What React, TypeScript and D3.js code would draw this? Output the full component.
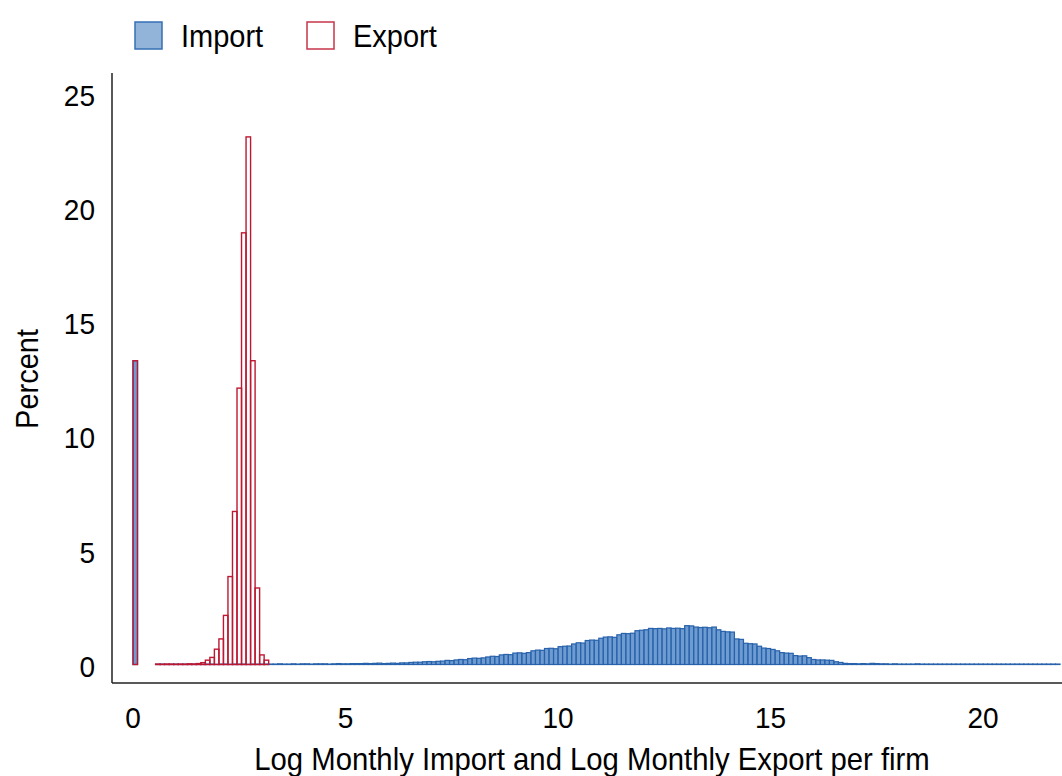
import React from "react";
import * as d3 from "d3";

// Histogram bin width (log units); bins start at 0
const binWidth = 0.1064;

// Import: percent per bin, bin k covers [k*binWidth, (k+1)*binWidth]
const importPct = [
  13.3, 0, 0, 0, 0, 0.01, 0.02, 0.01, 0.01, 0.02,
  0.01, 0.02, 0.01, 0.02, 0.02, 0.01, 0.02, 0.02, 0.01, 0.02,
  0.02, 0.01, 0.02, 0.02, 0.02, 0.01, 0.02, 0.02, 0.02, 0.02,
  0.02, 0.02, 0.03, 0.02, 0.02, 0.03, 0.02, 0.03, 0.03, 0.02,
  0.03, 0.03, 0.03, 0.02, 0.03, 0.04, 0.03, 0.03, 0.04, 0.04,
  0.04, 0.05, 0.04, 0.05, 0.06, 0.04, 0.05, 0.06, 0.05, 0.07,
  0.07, 0.09, 0.1, 0.1, 0.12, 0.13, 0.12, 0.14, 0.15, 0.18,
  0.17, 0.2, 0.22, 0.21, 0.26, 0.28, 0.27, 0.29, 0.33, 0.36,
  0.35, 0.42, 0.44, 0.43, 0.5, 0.51, 0.49, 0.52, 0.6, 0.63,
  0.62, 0.7, 0.71, 0.69, 0.78, 0.8, 0.81, 0.9, 0.95, 0.94,
  1.05, 1.07, 1.06, 1.15, 1.2, 1.21, 1.19, 1.3, 1.36, 1.35,
  1.37, 1.48, 1.5, 1.52, 1.58, 1.57, 1.58, 1.56, 1.6, 1.58,
  1.59, 1.57, 1.7, 1.69, 1.64, 1.62, 1.63, 1.61, 1.64, 1.52,
  1.45, 1.43, 1.42, 1.12, 1.1, 0.93, 0.91, 0.9, 0.8, 0.72,
  0.7, 0.66, 0.6, 0.52, 0.5, 0.49, 0.39, 0.37, 0.38, 0.3,
  0.22, 0.2, 0.2, 0.19, 0.18, 0.12, 0.09, 0.05, 0.04, 0.04,
  0.03, 0.04, 0.03, 0.05, 0.04, 0.03, 0.03, 0.02, 0.03, 0.02,
  0.02, 0.02, 0.02, 0.03, 0.02, 0.02, 0.02, 0.02, 0.02, 0.02,
  0.02, 0.02, 0.02, 0.02, 0.02, 0.02, 0.02, 0.02, 0.02, 0.02,
  0.02, 0.02, 0.02, 0.02, 0.02, 0.02, 0.02, 0.02, 0.02, 0.02,
  0.02, 0.02, 0.02, 0.02, 0.02,
];

// Export: percent per bin
const exportPct = [
  13.3, 0, 0, 0, 0, 0.02, 0.01, 0.02, 0.02, 0.01,
  0.02, 0.01, 0.03, 0.02, 0.04, 0.08, 0.19, 0.31, 0.67, 1.12,
  2.15, 3.85, 6.7, 12.1, 18.9, 23.1, 13.3, 3.35, 0.42, 0.19,
];

const xTicks = [0, 5, 10, 15, 20];
const yTicks = [0, 5, 10, 15, 20, 25];
const seriesNames = ["Import", "Export"];

const W = 1062;
const H = 776;
const FONT = "'Liberation Sans', Arial, sans-serif";
const STRETCH = 1.07;

function T(props: {
  x: number;
  y: number;
  size: number;
  anchor?: string;
  rotate?: number;
  children: React.ReactNode;
}) {
  const { x, y, size, anchor = "start", rotate = 0, children } = props;
  const tr = rotate
    ? `translate(${x},${y}) rotate(${rotate}) scale(1,${STRETCH})`
    : `translate(${x},${y}) scale(1,${STRETCH})`;
  return (
    <text
      transform={tr}
      x={0}
      y={0}
      textAnchor={anchor}
      dominantBaseline="central"
      fontSize={size}
      fill="#000"
    >
      {children}
    </text>
  );
}

export default function App() {
  const x = d3.scaleLinear().domain([0, 20]).range([133, 983]);
  const y = d3.scaleLinear().domain([0, 25]).range([664.5, 93.5]);
  const left = 112;
  const right = 1062;
  const top = 73;
  const bottom = 683;

  const bars = (arr: number[]) =>
    arr
      .map((v, k) => ({ v, k }))
      .filter((d) => d.v > 0)
      .map((d) => ({
        x0: x(d.k * binWidth),
        x1: x((d.k + 1) * binWidth),
        y0: y(d.v),
        y1: y(0),
        key: d.k,
      }));

  const imp = bars(importPct);
  const exp = bars(exportPct);

  return (
    <svg
      width={W}
      height={H}
      viewBox={`0 0 ${W} ${H}`}
      style={{ position: "absolute", left: 0, top: 0, background: "#fff" }}
      fontFamily={FONT}
    >
      <rect x={0} y={0} width={W} height={H} fill="#fff" />
      {/* Import bars */}
      <g>
        {imp.map((b) => (
          <rect
            key={"i" + b.key}
            x={b.x0}
            y={b.y0}
            width={b.x1 - b.x0}
            height={b.y1 - b.y0}
            fill="#4a82c4"
            fillOpacity={0.8}
            stroke="#2862ab"
            strokeWidth={1.2}
          />
        ))}
      </g>
      {/* Export bars */}
      <g>
        {exp.map((b) => (
          <rect
            key={"e" + b.key}
            x={b.x0}
            y={b.y0}
            width={b.x1 - b.x0}
            height={b.y1 - b.y0}
            fill="none"
            stroke="#bd1832"
            strokeWidth={1.4}
          />
        ))}
      </g>
      {/* Axes */}
      <line x1={left} y1={top} x2={left} y2={bottom} stroke="#222" strokeWidth={1.5} />
      <line x1={left} y1={bottom} x2={right} y2={bottom} stroke="#222" strokeWidth={1.5} />
      {yTicks.map((t) => (
        <T key={"y" + t} x={95} y={y(t) + 2} size={28} anchor="end">
          {t}
        </T>
      ))}
      {xTicks.map((t) => (
        <T key={"x" + t} x={x(t)} y={718} size={28} anchor="middle">
          {t}
        </T>
      ))}
      <T x={592} y={759} size={29.3} anchor="middle">
        Log Monthly Import and Log Monthly Export per firm
      </T>
      <T x={27} y={379} size={29} anchor="middle" rotate={-90}>
        Percent
      </T>
      {/* Legend */}
      <rect x={135} y={22} width={27} height={27} fill="#93b4d9" stroke="#3470b5" strokeWidth={1.5} />
      <T x={181} y={36} size={29}>
        {seriesNames[0]}
      </T>
      <rect x={307} y={22} width={27} height={27} fill="#fff" stroke="#c8344a" strokeWidth={1.5} />
      <T x={353} y={36} size={29}>
        {seriesNames[1]}
      </T>
    </svg>
  );
}
